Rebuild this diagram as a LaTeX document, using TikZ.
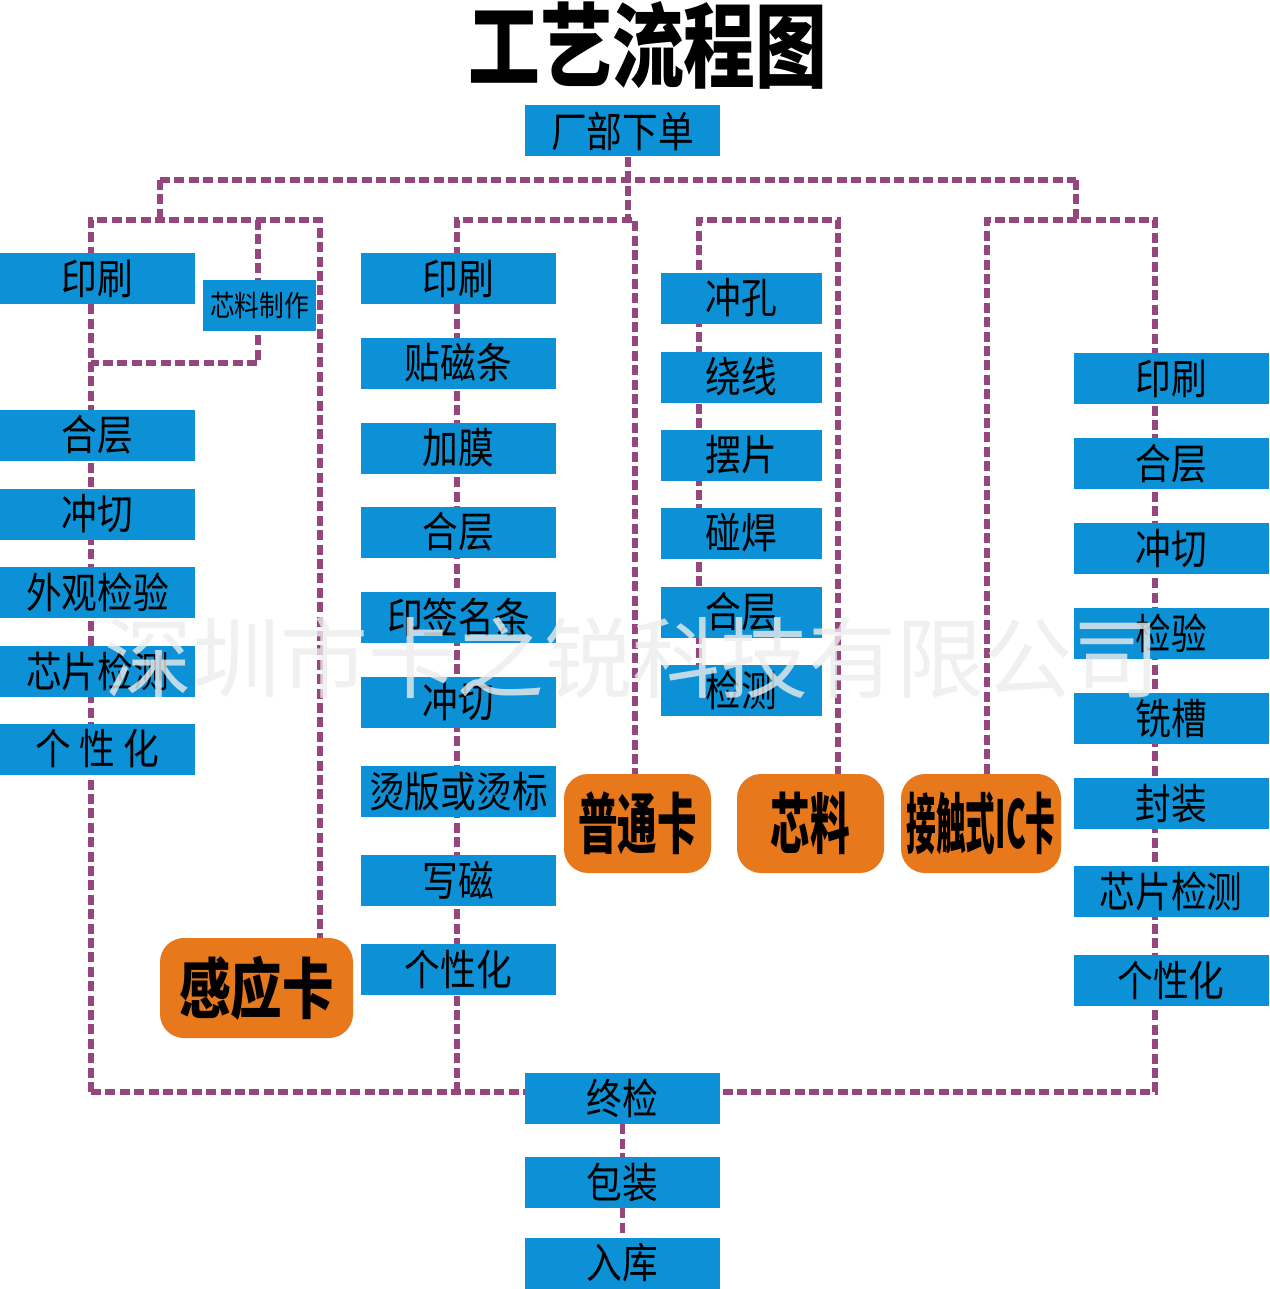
\documentclass[tikz,border=0pt]{standalone}
\usepackage{fontspec}
\usetikzlibrary{positioning,calc}
\setmainfont{Noto Sans CJK SC}
\newfontfamily\boxfont[FakeStretch=0.85]{Noto Sans CJK SC}
\newfontfamily\cardfont[FakeStretch=0.6]{Noto Sans CJK SC}
\newfontfamily\cardwide[FakeStretch=0.78]{Noto Sans CJK SC}
\newfontfamily\cardslim[FakeStretch=0.45]{Noto Sans CJK SC}
\definecolor{procblue}{RGB}{12,145,215}
\definecolor{carte}{RGB}{232,120,28}
\definecolor{pointille}{RGB}{150,70,125}
\pgfdeclarelayer{background}
\pgfsetlayers{background,main}

\begin{document}
\begin{tikzpicture}[x=0.5pt,y=-0.5pt,
    proc/.style={fill=procblue,inner sep=0pt,minimum width=97.5pt,minimum height=25.5pt,
      font=\boxfont\fontsize{21}{21}\selectfont},
    narrow/.style={proc,minimum width=80.5pt},
    card/.style={fill=carte,rounded corners=12pt,inner sep=0pt,minimum width=73.5pt,
      minimum height=49.5pt,font=\cardfont\bfseries\fontsize{33}{33}\selectfont},
    flow/.style={pointille,line width=2.8pt,dash pattern=on 5pt off 2.2pt}]
  \useasboundingbox (0,0) rectangle (1269,1289);

  \node[font=\cardwide\bfseries\fontsize{46}{46}\selectfont] (titre) at (648,45) {工艺流程图};
  \node[proc] (ordre) at (622.5,131) {厂部下单};

  % colonne感应卡
  \node[proc] (a1) at (97.5,278.5) {印刷};
  \node[proc,minimum width=56.5pt,font=\boxfont\fontsize{14.5}{14.5}\selectfont] (core) at (259.5,305.5) {芯料制作};
  \node[proc] (a2) at (97.5,435) {合层};
  \node[proc] (a3) at (97.5,514) {冲切};
  \node[proc] (a4) at (97.5,592) {外观检验};
  \node[proc] (a5) at (97.5,671) {芯片检测};
  \node[proc] (a6) at (97.5,749) {个 性 化};
  \node[card,minimum width=96.5pt,minimum height=50pt,font=\cardwide\bfseries\fontsize{33}{33}\selectfont] (induc) at (256.5,988) {感应卡};

  % colonne普通卡
  \node[proc] (b1) at (458.5,278.5) {印刷};
  \node[proc] (b2) at (458.5,363) {贴磁条};
  \node[proc] (b3) at (458.5,448) {加膜};
  \node[proc] (b4) at (458.5,532) {合层};
  \node[proc] (b5) at (458.5,617) {印签名条};
  \node[proc] (b6) at (458.5,702) {冲切};
  \node[proc] (b7) at (458.5,791.5) {烫版或烫标};
  \node[proc] (b8) at (458.5,880.5) {写磁};
  \node[proc] (b9) at (458.5,969.5) {个性化};
  \node[card] (normal) at (637.5,823.5) {普通卡};

  % colonne芯料
  \node[narrow] (c1) at (741.5,298) {冲孔};
  \node[narrow] (c2) at (741.5,377) {绕线};
  \node[narrow] (c3) at (741.5,455) {摆片};
  \node[narrow] (c4) at (741.5,533) {碰焊};
  \node[narrow] (c5) at (741.5,612) {合层};
  \node[narrow] (c6) at (741.5,690) {检测};
  \node[card] (xinliao) at (810.5,823.5) {芯料};

  % colonne接触式IC卡
  \node[proc] (d1) at (1171,378.5) {印刷};
  \node[proc] (d2) at (1171,463.5) {合层};
  \node[proc] (d3) at (1171,548.5) {冲切};
  \node[proc] (d4) at (1171,633.5) {检验};
  \node[proc] (d5) at (1171,718.5) {铣槽};
  \node[proc] (d6) at (1171,803.5) {封装};
  \node[proc] (d7) at (1171,891.5) {芯片检测};
  \node[proc] (d8) at (1171,980.5) {个性化};
  \node[card,minimum width=80pt,font=\cardslim\bfseries\fontsize{33}{33}\selectfont] (contact) at (981,823.5) {接触式IC卡};

  % fin
  \node[proc] (zhongjian) at (622.5,1098.5) {终检};
  \node[proc] (baozhuang) at (622.5,1182.5) {包装};
  \node[proc] (ruku) at (622.5,1263) {入库};

  \coordinate (jT) at (628,180);
  \coordinate (jL) at (160,180);
  \coordinate (jR) at (1076,180);
  \coordinate (ja1) at (91,220);
  \coordinate (ja2) at (320,220);
  \coordinate (ja3) at (258,220);
  \coordinate (ja4) at (91,363);
  \coordinate (ja5) at (258,363);
  \coordinate (jb1) at (457,220);
  \coordinate (jb2) at (635,220);
  \coordinate (jc1) at (699,220);
  \coordinate (jc2) at (838,220);
  \coordinate (jd1) at (987,220);
  \coordinate (jd2) at (1155,220);
  \coordinate (jbot) at (91,1092);
  \coordinate (jbot2) at (457,1092);
  \coordinate (jbot3) at (1155,1092);

  \begin{pgfonlayer}{background}
    \draw[flow] (ordre.south -| jT) -- (jT |- jb2);
    \draw[flow] (jL) -- (jR);
    \draw[flow] (jL) -- (jL |- ja1);
    \draw[flow] (jR) -- (jR |- jd1);
    \draw[flow] (jbot) -- (ja1) -- (ja2) -- (induc.north -| ja2);
    \draw[flow] (ja3) -- (ja5) -- (ja4);
    \draw[flow] (jbot2) -- (jb1) -- (jb2) -- (normal.north -| jb2);
    \draw[flow] (c6.south -| jc1) -- (jc1) -- (jc2) -- (xinliao.north -| jc2);
    \draw[flow] (contact.north -| jd1) -- (jd1) -- (jd2) -- (jbot3) -- (zhongjian.east |- jbot3);
    \draw[flow] (jbot) -- (zhongjian.west |- jbot);
    \draw[flow] (zhongjian) -- (baozhuang) -- (ruku);
  \end{pgfonlayer}

  \node[text=gray!15,opacity=0.8,font=\fontsize{44}{44}\selectfont] (filigrane) at (632,658) {深圳市卡之锐科技有限公司};
\end{tikzpicture}
\end{document}
